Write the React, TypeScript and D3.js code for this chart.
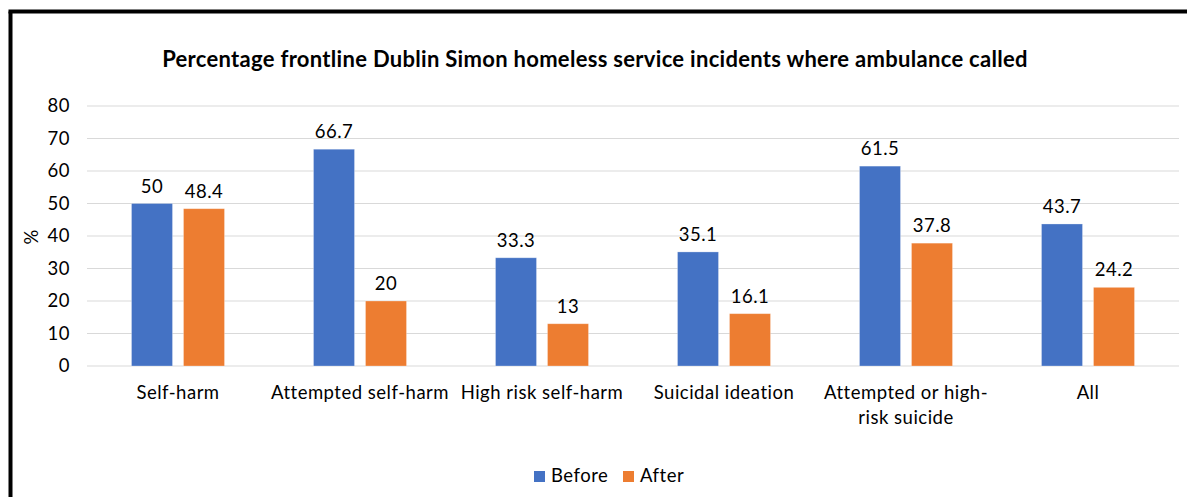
import React, { useEffect } from "react";
import * as d3 from "d3";

const categories = [
  "Self-harm",
  "Attempted self-harm",
  "High risk self-harm",
  "Suicidal ideation",
  "Attempted or high-risk suicide",
  "All",
];
const beforeValues = [50, 66.7, 33.3, 35.1, 61.5, 43.7];
const afterValues = [48.4, 20, 13, 16.1, 37.8, 24.2];
const seriesNames = ["Before", "After"];
const yTicks = [0, 10, 20, 30, 40, 50, 60, 70, 80];
const titleText = "Percentage frontline Dublin Simon homeless service incidents where ambulance called";
const yAxisLabel = "%";

const W = 1187;
const H = 497;
const FONT = "Lato, 'Open Sans', sans-serif";
const COLORS = ["#4472C4", "#ED7D31"];
const FS = 18.5;
const LS = 0.5;

function wrapLabel(text: string, maxWidth: number, font: string): string[] {
  const canvas = document.createElement("canvas");
  const ctx = canvas.getContext("2d");
  if (!ctx) return [text];
  ctx.font = font;
  const measure = (s: string) => ctx.measureText(s).width + s.length * LS;
  if (measure(text) <= maxWidth) return [text];
  const tokens = text.match(/[^\s-]+[-]?\s*/g) || [text];
  const lines: string[] = [];
  let cur = "";
  for (const t of tokens) {
    const trial = cur + t;
    if (cur && measure(trial.trim()) > maxWidth) {
      lines.push(cur.trim());
      cur = t;
    } else {
      cur = trial;
    }
  }
  if (cur) lines.push(cur.trim());
  return lines;
}

export default function App() {
  useEffect(() => {
    document.body.style.margin = "0";
  }, []);

  const left = 87;
  const right = 1179;
  const top = 106;
  const bottom = 366;

  const x0 = d3.scaleBand<string>().domain(categories).range([left, right]).paddingInner(0).paddingOuter(0);
  const barW = 41;
  const gap = 11;
  const x1 = d3
    .scaleOrdinal<string, number>()
    .domain(seriesNames)
    .range([-(gap / 2 + barW), gap / 2]);
  const y = d3.scaleLinear().domain([0, 80]).range([bottom, top]);

  const series = [beforeValues, afterValues];

  return (
    <svg width={W} height={H} style={{ display: "block", background: "#fff" }} fontFamily={FONT}>
      <rect x={0} y={0} width={W} height={H} fill="#fff" />
      {/* frame */}
      <line x1={10.5} y1={11.5} x2={10.5} y2={H} stroke="#000" strokeWidth={4} />
      <line x1={8.5} y1={11.5} x2={W} y2={11.5} stroke="#000" strokeWidth={4} />

      <text x={595} y={67} textAnchor="middle" fontSize={22} letterSpacing={0.3} fontWeight="bold" fill="#000">
        {titleText}
      </text>

      {/* gridlines */}
      {yTicks.map((t) => (
        <g key={t}>
          <line x1={left} x2={right} y1={y(t)} y2={y(t)} stroke="#d9d9d9" strokeWidth={1.2} />
          <text x={70} y={y(t)} dy="0.35em" textAnchor="end" fontSize={FS} letterSpacing={LS} fill="#000">
            {t}
          </text>
        </g>
      ))}

      <text
        transform={`translate(32, ${(top + bottom) / 2 + 1}) rotate(-90)`}
        textAnchor="middle"
        dy="0.35em"
        fontSize={FS}
        fill="#000"
      >
        {yAxisLabel}
      </text>

      {/* bars */}
      {categories.map((c, i) => {
        const cx = (x0(c) as number) + x0.bandwidth() / 2;
        return (
          <g key={c}>
            {series.map((vals, s) => {
              const bx = cx + x1(seriesNames[s]);
              const by = y(vals[i]);
              return (
                <g key={s}>
                  <rect
                    x={bx}
                    y={by}
                    width={barW}
                    height={y(0) - by}
                    fill={COLORS[s]}
                    stroke="#fff"
                    strokeOpacity={0.35}
                    strokeWidth={0.8}
                  />
                  <text x={bx + barW / 2} y={by - 11} textAnchor="middle" fontSize={FS} letterSpacing={LS} fill="#000">
                    {vals[i]}
                  </text>
                </g>
              );
            })}
            {wrapLabel(c, 182, `${FS}px Lato`).map((line, li) => (
              <text key={li} x={cx} y={399 + li * 25} textAnchor="middle" fontSize={FS} letterSpacing={LS} fill="#000">
                {line}
              </text>
            ))}
          </g>
        );
      })}

      {/* legend */}
      {seriesNames.map((n, s) => {
        const lx = [534, 623][s];
        return (
          <g key={n}>
            <rect x={lx} y={471} width={11} height={11} fill={COLORS[s]} />
            <text x={lx + 17} y={482} fontSize={FS} letterSpacing={LS} fill="#000">
              {n}
            </text>
          </g>
        );
      })}
    </svg>
  );
}
